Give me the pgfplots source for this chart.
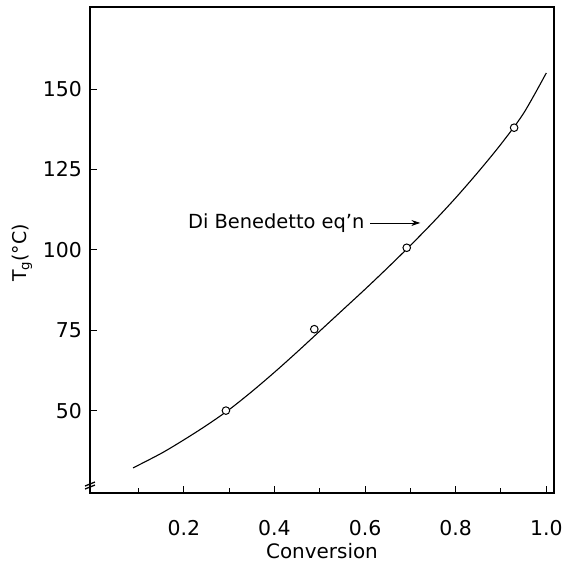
\documentclass[border=0pt]{standalone}
\usepackage{fontspec}
\setmainfont{DejaVu Sans}
\usepackage{pgfplots}
\pgfplotsset{compat=1.18}
\usetikzlibrary{arrows.meta}

\begin{document}
\begin{tikzpicture}
\begin{axis}[
  scale only axis,
  width=464bp, height=486bp,
  xmin=-0.007, xmax=1.017,
  ymin=24.5, ymax=175.5,
  axis line style={line width=1.3bp},
  tick align=inside,
  xtick pos=bottom, ytick pos=left,
  xtick={0.2,0.4,0.6,0.8,1.0},
  minor xtick={0.1,0.3,0.5,0.7,0.9},
  ytick={50,75,100,125,150},
  major tick length=7bp, minor tick length=5bp,
  every tick/.style={line width=1bp, black},
  /pgf/number format/assume math mode=true,
  xticklabel style={/pgf/number format/fixed, /pgf/number format/fixed zerofill,
    /pgf/number format/precision=1,
    anchor=north, inner sep=0pt, yshift=-27bp, font=\fontsize{20.5}{24}\selectfont},
  yticklabel style={anchor=east, inner sep=0pt, xshift=-8bp, font=\fontsize{20.5}{24}\selectfont},
  xlabel={Conversion},
  xlabel style={at={(axis description cs:0.5,0)}, anchor=north, inner sep=0pt, yshift=-50bp, font=\fontsize{20}{24}\selectfont},
  ylabel={T\textsubscript{g}(\textdegree C)},
  ylabel style={at={(axis description cs:-0.146,0.494)}, anchor=center, inner sep=0pt, font=\fontsize{19}{22}\selectfont},
  clip=false,
]
% Di Benedetto curve
\addplot[black, line width=1.1bp, smooth] coordinates {
  (0.088,32.3) (0.15,36.8) (0.2,41.0) (0.25,45.5) (0.3,50.4)
  (0.35,56.0) (0.4,62.0) (0.45,68.3) (0.5,74.8) (0.55,81.3)
  (0.6,87.8) (0.65,94.5) (0.7,101.4) (0.75,108.6) (0.8,116.2)
  (0.85,124.3) (0.9,132.9) (0.95,142.5) (1.0,155.0)
};
% measured points
\addplot[only marks, mark=*, mark size=3.8bp,
  mark options={fill=white, draw=black, line width=1bp}] coordinates {
  (0.293,50.1) (0.488,75.4) (0.692,100.7) (0.929,138.0)
};
\node[anchor=west, inner sep=0pt, font=\fontsize{19.5}{23}\selectfont]
  at (axis cs:0.209,108.4) {Di Benedetto eq'n};
\draw[-{Stealth[length=9bp,width=6bp]}, line width=0.9bp]
  (axis cs:0.611,108.4) -- (axis cs:0.722,108.4);
% axis break mark
\draw[line width=1.3bp] ([shift={(-5bp,4bp)}]rel axis cs:0,0) -- ++(10bp,4bp);
\draw[line width=1.3bp] ([shift={(-5bp,7bp)}]rel axis cs:0,0) -- ++(10bp,4bp);
\end{axis}
\path (current axis.south west) ++(-90bp,-71bp) rectangle ++(574bp,564bp);
\end{tikzpicture}
\end{document}
